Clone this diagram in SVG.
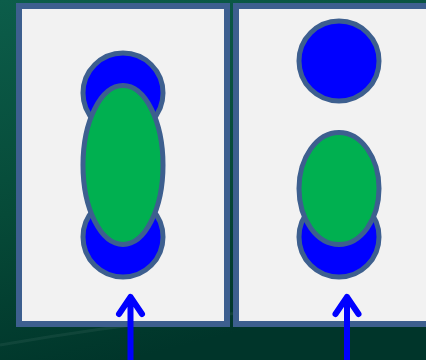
<svg xmlns="http://www.w3.org/2000/svg" width="426" height="360" viewBox="0 0 426 360">
<defs>
<linearGradient id="bg" x1="0" y1="0" x2="0.3" y2="1">
<stop offset="0" stop-color="#0c5d4a"/>
<stop offset="0.55" stop-color="#064a38"/>
<stop offset="1" stop-color="#00352a"/>
</linearGradient>
<style>
.panel{fill:#f2f2f2;stroke:#3d5f8f;stroke-width:6}
.blue{fill:#0000ff;stroke:#3d5f8f;stroke-width:5}
.green{fill:#00b050;stroke:#3d5f8f;stroke-width:5}
.arrow{fill:none;stroke:#0000ff;stroke-width:6;stroke-linecap:round;stroke-linejoin:round}
</style>
</defs>
<rect x="0" y="0" width="426" height="360" fill="url(#bg)"/>
<path d="M0,345 Q200,310 426,300" fill="none" stroke="#ffffff" stroke-opacity="0.06" stroke-width="3"/>
<g id="panel-left">
<rect class="panel" x="19" y="6" width="208" height="318"/>
</g>
<g id="panel-right">
<rect class="panel" x="236" y="6" width="206" height="318"/>
</g>
<g id="left-top-circle"><circle class="blue" cx="123" cy="93" r="40"/></g>
<g id="left-bottom-circle"><circle class="blue" cx="123" cy="237" r="40"/></g>
<g id="left-ellipse"><ellipse class="green" cx="123" cy="165" rx="40" ry="79.5"/></g>
<g id="right-top-circle"><circle class="blue" cx="339" cy="61" r="40"/></g>
<g id="right-bottom-circle"><circle class="blue" cx="339" cy="237" r="40"/></g>
<g id="right-ellipse"><ellipse class="green" cx="339" cy="188.5" rx="40" ry="56"/></g>
<g id="connectors">
<path class="arrow" d="M130.5,360 V297 M119,314 L130.5,297 L142,314"/>
<path class="arrow" d="M347,360 V297 M335.5,314 L347,297 L358.5,314"/>
</g>
</svg>
